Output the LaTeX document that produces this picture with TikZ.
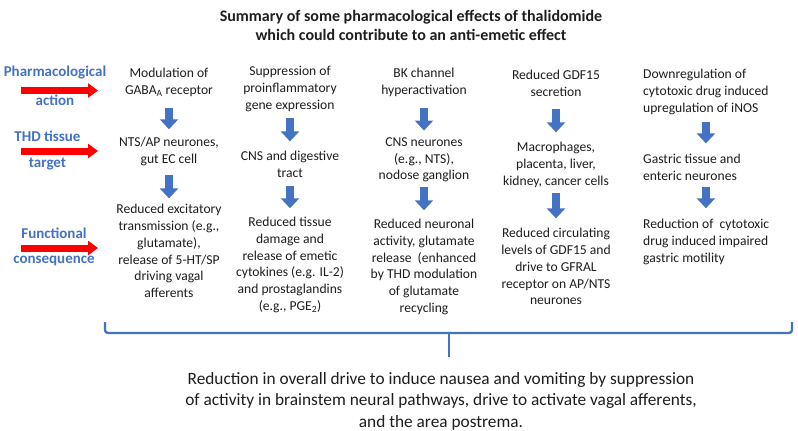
\documentclass[tikz,border=0pt]{standalone}
\usepackage{fontspec}
\setmainfont{Carlito}
\usetikzlibrary{arrows.meta}
\definecolor{bluemain}{RGB}{68,114,196}
\definecolor{txt}{RGB}{30,30,30}
\tikzset{
  coltext/.style={font=\fontsize{13.6}{16.8}\selectfont, align=center, inner sep=0pt, text=txt},
  colleft/.style={font=\fontsize{13.6}{16.8}\selectfont, align=left, inner sep=0pt, text=txt, anchor=west},
  rowlabel/.style={font=\bfseries\fontsize{15}{18}\selectfont, text=bluemain, inner sep=0pt},
  bluearr/.style={draw=bluemain, line width=8pt, -{Triangle[width=18pt,length=10pt,fill=bluemain]}},
  redarr/.style={draw=red, line width=7pt, -{Triangle[width=14pt,length=10pt,fill=red]}},
  bracestyle/.style={draw=bluemain, line width=2.4pt},
  sh/.style 2 args={shorten <=#1pt, shorten >=#2pt}
}
\begin{document}
\begin{tikzpicture}[x=1pt,y=-1pt]
\useasboundingbox (0,0) rectangle (798,431);
\fill[white] (0,0) rectangle (798,431);

% title
\node[font=\bfseries\fontsize{16}{19}\selectfont, align=center, text=txt, inner sep=0pt] (title) at (411,25.5)
  {Summary of some pharmacological effects of thalidomide\\which could contribute to an anti-emetic effect};

% row labels
\node[rowlabel] (l1a) at (55,73) {Pharmacological};
\node[rowlabel] (l1b) at (55,100.5) {action};
\node[rowlabel] (l2a) at (47.5,136) {THD tissue};
\node[rowlabel] (l2b) at (47.5,164) {target};
\node[rowlabel] (l3a) at (54,233) {Functional};
\node[rowlabel] (l3b) at (54,261) {consequence};

\coordinate (r1s) at (21,90.5); \coordinate (r1e) at (98,90.5);
\coordinate (r2s) at (21,151); \coordinate (r2e) at (98,151);
\coordinate (r3s) at (21,248); \coordinate (r3e) at (98,248);
\draw[redarr] (r1s) -- (r1e);
\draw[redarr] (r2s) -- (r2e);
\draw[redarr] (r3s) -- (r3e);

% column 1
\node[coltext] (a1) at (169,82.4) {Modulation of\\GABA\textsubscript{A} receptor};
\node[coltext] (t1) at (169,151.4) {NTS/AP neurones,\\gut EC cell};
\node[coltext] (c1) at (169,251) {Reduced excitatory\\transmission (e.g.,\\glutamate),\\release of 5-HT/SP\\driving vagal\\afferents};
\draw[bluearr, sh={10.85}{7.65}] (a1.south) -- (t1.north);
\draw[bluearr, sh={8.85}{5.65}] (t1.south) -- (c1.north);

% column 2
\node[coltext] (a2) at (290,88.8) {Suppression of\\proinflammatory\\gene expression};
\node[coltext] (t2) at (290,164.4) {CNS and digestive\\tract};
\node[coltext] (c2) at (290,265) {Reduced tissue\\damage and\\release of emetic\\cytokines (e.g. IL-2)\\and prostaglandins\\(e.g., PGE\textsubscript{2})};
\draw[bluearr, sh={6.05}{9.65}] (a2.south) -- (t2.north);
\draw[bluearr, sh={7.85}{8.65}] (t2.south) -- (c2.north);

% column 3
\node[coltext] (a3) at (424,82.4) {BK channel\\hyperactivation};
\node[coltext] (t3) at (424,159.8) {CNS neurones\\(e.g., NTS),\\nodose ganglion};
\node[coltext] (c3) at (424,267) {Reduced neuronal\\activity, glutamate\\release\ \ (enhanced\\by THD modulation\\of glutamate\\recycling};
\draw[bluearr, sh={10.85}{6.65}] (a3.south) -- (t3.north);
\draw[bluearr, sh={5.05}{8.65}] (t3.south) -- (c3.north);

% column 4
\node[coltext] (a4) at (556,83.4) {Reduced GDF15\\secretion};
\node[coltext] (t4) at (556,164.8) {Macrophages,\\placenta, liver,\\kidney, cancer cells};
\node[coltext] (c4) at (556,266.6) {Reduced circulating\\levels of GDF15 and\\drive to GFRAL\\receptor on AP/NTS\\neurones};
\draw[bluearr, sh={11.85}{9.65}] (a4.south) -- (t4.north);
\draw[bluearr, sh={5.05}{9.65}] (t4.south) -- (c4.north);

% column 5
\node[colleft] (a5) at (643,91.8) {Downregulation of\\cytotoxic drug induced\\upregulation of iNOS};
\node[colleft] (t5) at (643,167.4) {Gastric tissue and\\enteric neurones};
\node[colleft] (c5) at (643,241.8) {Reduction of\ \ cytotoxic\\drug induced impaired\\gastric motility};
\draw[bluearr, sh={7.05}{10.65}] (a5.south) -- (a5.south |- t5.north);
\draw[bluearr, sh={5.85}{10.65}] (a5.south |- t5.south) -- (a5.south |- c5.north);

% brace
\coordinate (bl) at (105,322);
\coordinate (br) at (792,322);
\coordinate (bm) at (449,333);
\coordinate (bt) at (449,357);
\draw[bracestyle, rounded corners=3pt] (bl) |- (bm) -| (br);
\draw[bracestyle] (bm) -- (bt);

% summary
\node[font=\fontsize{17.3}{21.5}\selectfont, align=center, text=txt, inner sep=0pt] (sum) at (441,401)
  {Reduction in overall drive to induce nausea and vomiting by suppression\\of activity in brainstem neural pathways, drive to activate vagal afferents,\\and the area postrema.};
\end{tikzpicture}
\end{document}
